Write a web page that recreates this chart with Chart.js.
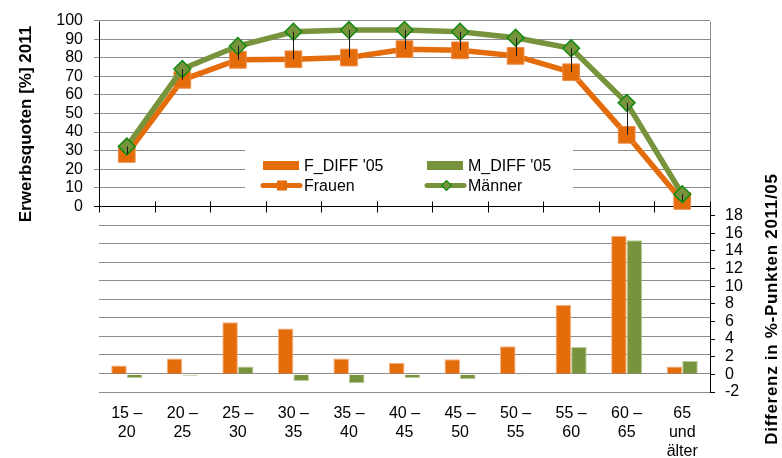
<!DOCTYPE html>
<html>
<head>
<meta charset="utf-8">
<script src="https://cdn.jsdelivr.net/npm/chart.js@4.4.1/dist/chart.umd.min.js"></script>
<style>
  html, body { margin: 0; padding: 0; background: #fff; }
  #wrap { width: 782px; height: 458px; position: relative; }
</style>
</head>
<body>
<div id="wrap"><canvas id="c" width="782" height="458"></canvas></div>
<script>
// Altersgruppen (x-Achse)
const ageGroups = [
  ["15 –", "20"], ["20 –", "25"], ["25 –", "30"], ["30 –", "35"], ["35 –", "40"],
  ["40 –", "45"], ["45 –", "50"], ["50 –", "55"], ["55 –", "60"], ["60 –", "65"],
  ["65", "und", "älter"]
];

// Erwerbsquoten 2011 in %
const frauen2011  = [28.2, 68.1, 78.9, 79.2, 80.1, 84.6, 84.0, 81.0, 72.2, 38.5, 2.9];
const maenner2011 = [32.2, 73.9, 86.3, 94.0, 94.9, 95.0, 94.0, 90.8, 85.1, 55.7, 6.5];

// Differenz 2011 gegenüber 2005 in %-Punkten
const frauenDiff05  = [1.0, 1.8, 5.9, 5.2, 1.8, 1.3, 1.7, 3.2, 7.9, 15.7, 0.9];
const maennerDiff05 = [-0.4, -0.15, 0.9, -0.75, -1.0, -0.4, -0.55, -0.1, 3.1, 15.2, 1.5];

// Achsenbeschriftungen
const quoteTicks = [0, 10, 20, 30, 40, 50, 60, 70, 80, 90, 100];
const diffTicks  = [-2, 0, 2, 4, 6, 8, 10, 12, 14, 16, 18];
const diffGrid   = [-2, 0, 2, 4, 6, 8, 10, 12, 14, 16];

const titleLeft  = "Erwerbsquoten [%] 2011";
const titleRight = "Differenz in %-Punkten 2011/05";

const ORANGE = "#E46C0A";
const OLIVE  = "#77933C";
const DGREEN = "#118A11";
const GRID   = "#8c8c8c";
const FONT   = "'Liberation Sans', Arial, sans-serif";

Chart.defaults.font.family = FONT;
Chart.defaults.color = "#000";

// Rahmen, Achslinien, Legende und Achsentitel
const framePlugin = {
  id: "frame",
  beforeDatasetsDraw(chart) {
    const { ctx, chartArea: a, scales: { x, yL } } = chart;
    const y0 = Math.round(yL.getPixelForValue(0)) + 0.5;
    const left = Math.round(a.left) + 0.5;
    const right = Math.round(a.right) + 0.5;
    const top = Math.round(a.top) + 0.5;
    const bottom = Math.round(a.bottom) + 0.5;

    ctx.save();
    ctx.lineWidth = 1;

    // Rechter Rand des oberen Diagramms
    ctx.strokeStyle = GRID;
    ctx.beginPath();
    ctx.moveTo(right, top);
    ctx.lineTo(right, y0);
    ctx.stroke();

    // Legendenfeld
    const lx0 = 245, lx1 = 573, ly0 = 150, ly1 = 201;
    ctx.fillStyle = "#fff";
    ctx.fillRect(lx0, ly0, lx1 - lx0, ly1 - ly0);

    ctx.strokeStyle = "#000";
    // linke Achse
    ctx.beginPath();
    ctx.moveTo(left, top);
    ctx.lineTo(left, y0 + 6);
    ctx.stroke();
    // Nulllinie mit Kategorie-Teilstrichen
    ctx.beginPath();
    ctx.moveTo(left, y0);
    ctx.lineTo(right, y0);
    const step = x.getPixelForValue(1) - x.getPixelForValue(0);
    for (let i = 1; i <= ageGroups.length; i++) {
      const bx = Math.round(x.getPixelForValue(i) - step / 2) + 0.5;
      ctx.moveTo(bx, y0 - 5);
      ctx.lineTo(bx, y0 + 6);
    }
    ctx.stroke();
    // rechte Achse (unteres Diagramm)
    ctx.beginPath();
    ctx.moveTo(right, y0);
    ctx.lineTo(right, bottom);
    ctx.stroke();

    // Legende
    ctx.font = "16px " + FONT;
    ctx.textBaseline = "alphabetic";
    ctx.textAlign = "left";
    ctx.fillStyle = ORANGE;
    ctx.fillRect(263, 161, 36, 9);
    ctx.fillStyle = OLIVE;
    ctx.fillRect(427, 161, 36, 9);
    ctx.fillStyle = "#000";
    ctx.fillText("F_DIFF '05", 304, 171);
    ctx.fillText("M_DIFF '05", 468, 171);

    const r2 = 185.5;
    ctx.lineCap = "round";
    ctx.lineWidth = 5;
    ctx.strokeStyle = ORANGE;
    ctx.beginPath();
    ctx.moveTo(263, r2);
    ctx.lineTo(300, r2);
    ctx.stroke();
    ctx.fillStyle = ORANGE;
    ctx.fillRect(277, r2 - 5, 10, 10);
    ctx.strokeStyle = OLIVE;
    ctx.beginPath();
    ctx.moveTo(427, r2);
    ctx.lineTo(464, r2);
    ctx.stroke();
    ctx.lineWidth = 1.2;
    ctx.fillStyle = OLIVE;
    ctx.strokeStyle = DGREEN;
    ctx.beginPath();
    ctx.moveTo(446.5 - 5, r2);
    ctx.lineTo(446.5, r2 - 5);
    ctx.lineTo(446.5 + 5, r2);
    ctx.lineTo(446.5, r2 + 5);
    ctx.closePath();
    ctx.fill();
    ctx.stroke();
    ctx.fillStyle = "#000";
    ctx.fillText("Frauen", 304, 191);
    ctx.fillText("Männer", 468, 191);

    // Achsentitel
    ctx.font = "bold 17px " + FONT;
    ctx.textAlign = "center";
    ctx.save();
    ctx.translate(30.5, 124);
    ctx.rotate(-Math.PI / 2);
    ctx.fillText(titleLeft, 0, 0);
    ctx.restore();
    ctx.save();
    ctx.letterSpacing = "0.7px";
    ctx.translate(777, 309);
    ctx.rotate(-Math.PI / 2);
    ctx.fillText(titleRight, 0, 0);
    ctx.restore();

    ctx.restore();
  },
  afterDatasetsDraw(chart) {
    // Verbindungslinien zwischen Frauen- und Männerwerten
    const { ctx } = chart;
    const mf = chart.getDatasetMeta(2);
    const mm = chart.getDatasetMeta(3);
    ctx.save();
    ctx.strokeStyle = "#1a1a1a";
    ctx.lineWidth = 1;
    ctx.beginPath();
    for (let i = 0; i < mf.data.length; i++) {
      const px = Math.round(mf.data[i].x) + 0.5;
      ctx.moveTo(px, mm.data[i].y);
      ctx.lineTo(px, mf.data[i].y);
    }
    ctx.stroke();
    ctx.restore();
  }
};

new Chart(document.getElementById("c"), {
  type: "bar",
  data: {
    labels: ageGroups,
    datasets: [
      {
        type: "bar",
        label: "F_DIFF '05",
        data: frauenDiff05,
        yAxisID: "yR",
        backgroundColor: ORANGE,
        borderColor: "#F3B183",
        borderWidth: 1,
        barPercentage: 1,
        categoryPercentage: 0.56,
        order: 2
      },
      {
        type: "bar",
        label: "M_DIFF '05",
        data: maennerDiff05,
        yAxisID: "yR",
        backgroundColor: OLIVE,
        borderColor: "#B9CC95",
        borderWidth: 1,
        barPercentage: 1,
        categoryPercentage: 0.56,
        order: 3
      },
      {
        type: "line",
        label: "Frauen",
        data: frauen2011,
        yAxisID: "yL",
        borderColor: ORANGE,
        borderWidth: 5.5,
        tension: 0,
        pointStyle: "rect",
        pointRadius: 11.8,
        pointBackgroundColor: ORANGE,
        pointBorderColor: "#EE8A45",
        pointBorderWidth: 1,
        order: 1
      },
      {
        type: "line",
        label: "Männer",
        data: maenner2011,
        yAxisID: "yL",
        borderColor: OLIVE,
        borderWidth: 5.5,
        tension: 0,
        pointStyle: "rectRot",
        pointRadius: 8.4,
        pointBackgroundColor: OLIVE,
        pointBorderColor: DGREEN,
        pointBorderWidth: 1.5,
        order: 0
      }
    ]
  },
  options: {
    responsive: false,
    animation: false,
    devicePixelRatio: 1,
    layout: { padding: { top: 16, left: 0, right: 0, bottom: 0 } },
    plugins: { legend: { display: false }, tooltip: { enabled: false } },
    scales: {
      x: {
        type: "category",
        offset: true,
        grid: { display: false, drawTicks: false },
        border: { display: false },
        ticks: {
          autoSkip: false,
          maxRotation: 0,
          minRotation: 0,
          padding: 12,
          color: "#000",
          font: { size: 16, lineHeight: "19px" }
        },
        afterFit(s) { s.height = 66; }
      },
      yL: {
        type: "linear",
        position: "left",
        min: -100,
        max: 100,
        afterBuildTicks(s) { s.ticks = quoteTicks.map(v => ({ value: v })); },
        ticks: { padding: 11, color: "#000", font: { size: 16 } },
        grid: {
          color: c => (c.tick && c.tick.value === 0 ? "rgba(0,0,0,0)" : GRID),
          tickColor: c => (c.tick && c.tick.value === 0 ? "#000" : GRID),
          tickLength: 5
        },
        border: { display: false },
        afterFit(s) { s.width = 99; }
      },
      yG: {
        type: "linear",
        position: "right",
        min: -2,
        max: 38.1,
        afterBuildTicks(s) { s.ticks = diffGrid.map(v => ({ value: v })); },
        ticks: { display: false },
        grid: { color: GRID, drawTicks: false },
        border: { display: false },
        afterFit(s) { s.width = 0; }
      },
      yR: {
        type: "linear",
        position: "right",
        min: -2,
        max: 40.1,
        afterBuildTicks(s) { s.ticks = diffTicks.map(v => ({ value: v })); },
        ticks: { padding: 10, color: "#000", font: { size: 16 } },
        grid: { drawOnChartArea: false, tickLength: 5, tickColor: "#000" },
        border: { display: false },
        afterFit(s) { s.width = 72; }
      }
    }
  },
  plugins: [framePlugin]
});
</script>
</body>
</html>
